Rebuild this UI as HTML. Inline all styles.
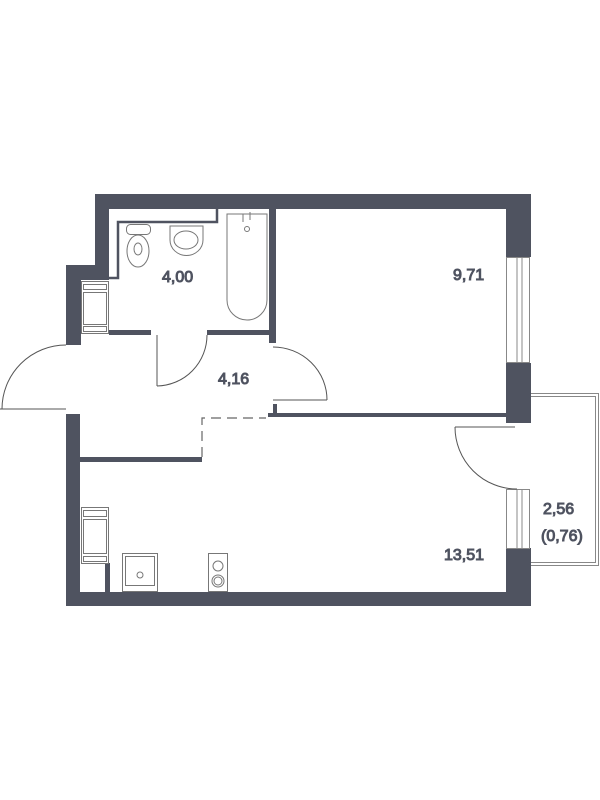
<!DOCTYPE html>
<html><head><meta charset="utf-8"><style>
html,body{margin:0;padding:0;background:#fff;}
svg{display:block;}
text{font-family:"Liberation Sans",sans-serif;font-size:16px;fill:#4f5360;}
</style></head><body>
<svg width="600" height="800" viewBox="0 0 600 800" xmlns="http://www.w3.org/2000/svg">
<g fill="#4f5360">
<rect x="95" y="194" width="436" height="15"/>
<rect x="95" y="194" width="14" height="86"/>
<rect x="66" y="265" width="43" height="15"/>
<rect x="66" y="265" width="15" height="80"/>
<rect x="66" y="414" width="14" height="192"/>
<rect x="66" y="592" width="465" height="14"/>
<rect x="506" y="194" width="25" height="63"/>
<rect x="506" y="363" width="25" height="60"/>
<rect x="506" y="548" width="25" height="58"/>
<rect x="109" y="330" width="42" height="5"/>
<rect x="207" y="330" width="62" height="5"/>
<rect x="269" y="209" width="7" height="134"/>
<rect x="268" y="413" width="238" height="4"/>
<rect x="273" y="404" width="4" height="10"/>
<rect x="80" y="457" width="122" height="5"/>
<rect x="105" y="563" width="5" height="30"/>
</g>
<g fill="none" stroke="#4f5360">
<polyline points="109,278 118,278 118,222 217,222 217,209" stroke-width="2.5"/>
<rect x="506.5" y="257.5" width="23" height="105" stroke="#888" stroke-width="1"/>
<line x1="517" y1="257" x2="517" y2="363" stroke="#888"/>
<line x1="522" y1="257" x2="522" y2="363" stroke="#888"/>
<rect x="506.5" y="489.5" width="23" height="59" stroke="#888" stroke-width="1"/>
<line x1="517" y1="489" x2="517" y2="548" stroke="#888"/>
<line x1="522" y1="489" x2="522" y2="548" stroke="#888"/>
<polyline points="531,393.5 598.5,393.5 598.5,565.5 531,565.5" stroke="#888"/>
<polyline points="531,396.5 595.5,396.5 595.5,562.5 531,562.5" stroke="#888"/>
<g stroke="#555" stroke-width="1">
<line x1="0" y1="409" x2="66" y2="409"/>
<path d="M2,409 A64,64 0 0 1 66,345"/>
<line x1="157" y1="335" x2="157" y2="386"/>
<path d="M157,386 A51,51 0 0 0 207,335"/>
<line x1="273" y1="400" x2="327" y2="400"/>
<path d="M273,347 A54,53 0 0 1 327,400"/>
<line x1="455" y1="427" x2="515" y2="427"/>
<path d="M455,427 A62,62 0 0 0 517,489"/>
</g>
<polyline points="202,457 202,418 266,418" stroke="#666" stroke-width="1.2" stroke-dasharray="10,6"/>
<g stroke="#777" stroke-width="1">
<rect x="81.5" y="281.5" width="27" height="52"/>
<rect x="83.5" y="284.5" width="23" height="5"/>
<rect x="83.5" y="292.5" width="23" height="32"/>
<rect x="83.5" y="326.5" width="23" height="5"/>
<rect x="81.5" y="507.5" width="27" height="56"/>
<rect x="83.5" y="510.5" width="23" height="6"/>
<rect x="83.5" y="519.5" width="23" height="34"/>
<rect x="83.5" y="556.5" width="23" height="5"/>
<rect x="122.5" y="553.5" width="35" height="38"/>
<rect x="125.5" y="556.5" width="29" height="29"/>
<circle cx="140" cy="575" r="3"/>
<rect x="208.5" y="553.5" width="19" height="38"/>
<circle cx="218" cy="566" r="5"/>
<circle cx="218" cy="581" r="6"/>
<circle cx="218" cy="581" r="4"/>
<rect x="126.5" y="224.5" width="24" height="10" rx="4"/>
<ellipse cx="138" cy="251" rx="11" ry="16"/>
<ellipse cx="138" cy="249" rx="4" ry="6"/>
<path d="M170,226 L203,226 L203,240 A16,15 0 0 1 170,240 Z"/>
<ellipse cx="186" cy="240" rx="12" ry="9"/>
<path d="M227,214 L267,214 L267,300 A20,20 0 0 1 227,300 Z"/>
<circle cx="247" cy="229" r="2.5"/>
<path d="M243,214 L243,222 M250,212 L250,220"/>
</g>
<text x="162" y="282">4,00</text>
<text x="218" y="384">4,16</text>
<text x="453" y="280">9,71</text>
<text x="444" y="560">13,51</text>
<text x="543" y="514">2,56</text>
<text x="541" y="541">(0,76)</text>
</svg>
</body></html>
